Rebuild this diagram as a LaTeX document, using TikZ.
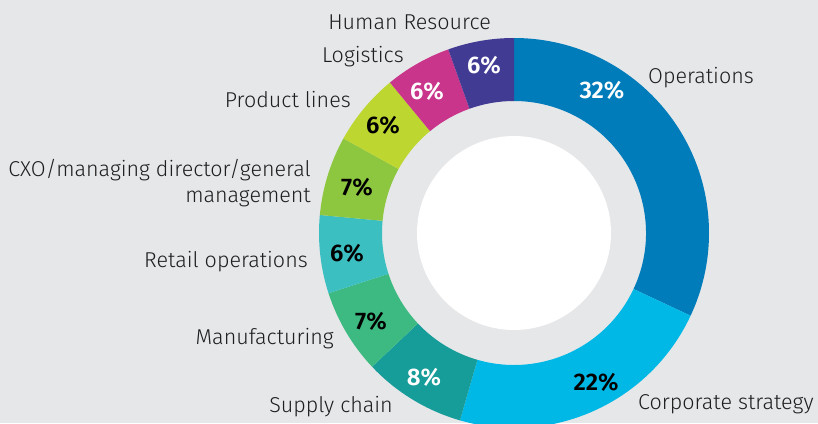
\documentclass[tikz,border=0pt]{standalone}
\usepackage{fontspec}
\setmainfont{Fira Sans}[UprightFont=* Light, BoldFont=* SemiBold]
\usepackage{tikz}

\definecolor{bggray}{HTML}{E6E7E9}
\definecolor{opsblue}{HTML}{007CBA}
\definecolor{corpcyan}{HTML}{00B8E6}
\definecolor{supplyteal}{HTML}{169C99}
\definecolor{manugreen}{HTML}{3DBA82}
\definecolor{retailaqua}{HTML}{3BBFC1}
\definecolor{cxogreen}{HTML}{8DC63F}
\definecolor{prodlime}{HTML}{BDD630}
\definecolor{logmagenta}{HTML}{C8358A}
\definecolor{hrpurple}{HTML}{423B94}
\definecolor{labeltext}{HTML}{1E1E1E}

\begin{document}
\begin{tikzpicture}[x=1pt, y=1pt,
  catlabel/.style={font=\fontsize{21.5}{26}\selectfont, text=labeltext, inner sep=0pt},
  pctlabel/.style={font=\fontsize{24}{28}\selectfont\bfseries, inner sep=0pt}]

  % Ring radii
  \def\rout{195}
  \def\rin{132}
  \def\rhole{97}

  % === Background
  \fill[bggray] (-514,-190) rectangle (304,233);
  \useasboundingbox (-514,-190) rectangle (304,233);
  \clip (-514,-190) rectangle (304,233);

  % === Segments, clockwise from the top
  \fill[opsblue] (90:\rout) arc[start angle=90, end angle=-25.1, radius=\rout] -- (-25.1:\rin) arc[start angle=-25.1, end angle=90, radius=\rin] -- cycle;
  \fill[corpcyan] (-25.1:\rout) arc[start angle=-25.1, end angle=-106.1, radius=\rout] -- (-106.1:\rin) arc[start angle=-106.1, end angle=-25.1, radius=\rin] -- cycle;
  \fill[supplyteal] (-106.1:\rout) arc[start angle=-106.1, end angle=-136.7, radius=\rout] -- (-136.7:\rin) arc[start angle=-136.7, end angle=-106.1, radius=\rin] -- cycle;
  \fill[manugreen] (-136.7:\rout) arc[start angle=-136.7, end angle=-162, radius=\rout] -- (-162:\rin) arc[start angle=-162, end angle=-136.7, radius=\rin] -- cycle;
  \fill[retailaqua] (-162:\rout) arc[start angle=-162, end angle=-185.3, radius=\rout] -- (-185.3:\rin) arc[start angle=-185.3, end angle=-162, radius=\rin] -- cycle;
  \fill[cxogreen] (-185.3:\rout) arc[start angle=-185.3, end angle=-209, radius=\rout] -- (-209:\rin) arc[start angle=-209, end angle=-185.3, radius=\rin] -- cycle;
  \fill[prodlime] (-209:\rout) arc[start angle=-209, end angle=-230.5, radius=\rout] -- (-230.5:\rin) arc[start angle=-230.5, end angle=-209, radius=\rin] -- cycle;
  \fill[logmagenta] (-230.5:\rout) arc[start angle=-230.5, end angle=-250.3, radius=\rout] -- (-250.3:\rin) arc[start angle=-250.3, end angle=-230.5, radius=\rin] -- cycle;
  \fill[hrpurple] (-250.3:\rout) arc[start angle=-250.3, end angle=-270, radius=\rout] -- (-270:\rin) arc[start angle=-270, end angle=-250.3, radius=\rin] -- cycle;

  % White hole in the middle
  \fill[white] (0,0) circle[radius=\rhole];

  % === Percentages
  \node[pctlabel, white] (pctops) at (88,143) {32\%};
  \node[pctlabel, black] (pctcorp) at (82,-149) {22\%};
  \node[pctlabel, white] (pctsupply) at (-90,-144) {8\%};
  \node[pctlabel, black] (pctmanu) at (-143,-88) {7\%};
  \node[pctlabel, black] (pctretail) at (-167,-20) {6\%};
  \node[pctlabel, black] (pctcxo) at (-157,46) {7\%};
  \node[pctlabel, black] (pctprod) at (-131,108) {6\%};
  \node[pctlabel, white] (pctlog) at (-87,142) {6\%};
  \node[pctlabel, white] (pcthr) at (-30,168) {6\%};

  % === Category names
  \node[catlabel, anchor=base west] (ops) at (134,149) {Operations};
  \node[catlabel, anchor=base west] (corp) at (124,-176) {Corporate strategy};
  \node[catlabel, anchor=base east] (supply) at (-121,-179) {Supply chain};
  \node[catlabel, anchor=base east] (manu) at (-180,-111) {Manufacturing};
  \node[catlabel, anchor=base east] (retail) at (-206,-34) {Retail operations};
  \node[catlabel, anchor=east, align=right] (cxo) at (-203,50) {CXO/managing director/general\\management};
  \node[catlabel, anchor=base east] (prod) at (-163,125) {Product lines};
  \node[catlabel, anchor=base east] (log) at (-110,170) {Logistics};
  \node[catlabel, anchor=base east] (hr) at (-23,203) {Human Resource};

\end{tikzpicture}
\end{document}
